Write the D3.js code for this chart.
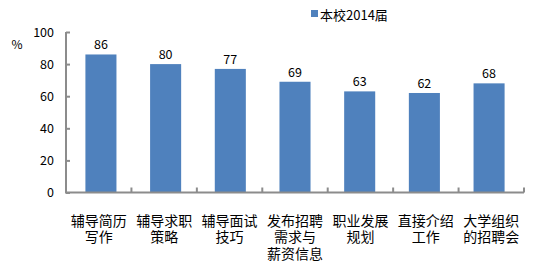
<!DOCTYPE html>
<html>
<head>
<meta charset="utf-8">
<script src="https://cdn.jsdelivr.net/npm/d3@7"></script>
<style>
  body { margin: 0; background: #fff; }
  text { font-family: "Noto Sans CJK SC", "Noto Sans", sans-serif; fill: #000; }
</style>
</head>
<body>
<div id="chart"></div>
<script>
"use strict";
// données
const categories = ["辅导简历写作", "辅导求职策略", "辅导面试技巧", "发布招聘需求与薪资信息", "职业发展规划", "直接介绍工作", "大学组织的招聘会"];
const labelLines = [["辅导简历", "写作"], ["辅导求职", "策略"], ["辅导面试", "技巧"], ["发布招聘", "需求与", "薪资信息"], ["职业发展", "规划"], ["直接介绍", "工作"], ["大学组织", "的招聘会"]];
const values = [86, 80, 77, 69, 63, 62, 68];
const yTicks = [0, 20, 40, 60, 80, 100];
const seriesName = "本校2014届";

const width = 549, height = 266;
const color = "#4F81BD", axisColor = "#8C8C8C";

const svg = d3.select("#chart").append("svg")
    .attr("width", width).attr("height", height);

const x = d3.scaleBand()
    .domain(categories)
    .range([66, 524])
    .paddingInner(0.52)
    .paddingOuter(0.3);

const band = d3.scaleBand().domain(categories).range([66, 524]);

const y = d3.scaleLinear().domain([0, 100]).range([192.5, 32]);

// barres
svg.selectAll(".bar").data(values).enter()
    .append("rect")
    .attr("class", "bar")
    .attr("x", (d, i) => x(categories[i]))
    .attr("y", d => y(d))
    .attr("width", x.bandwidth())
    .attr("height", d => y(0) - y(d))
    .attr("fill", color);

// étiquettes de valeurs
svg.selectAll(".val").data(values).enter()
    .append("text")
    .attr("class", "val")
    .attr("x", (d, i) => x(categories[i]) + x.bandwidth() / 2)
    .attr("y", d => y(d) - 5)
    .attr("text-anchor", "middle")
    .attr("font-size", 12.5)
    .text(d => d);

// axe y
const yAxis = svg.append("g")
    .attr("transform", "translate(66,0)")
    .call(d3.axisLeft(y).tickValues(yTicks).tickSize(-4).tickPadding(12));
yAxis.select(".domain").attr("stroke", axisColor).attr("stroke-width", 2).attr("d", `M0,${y(100)}V${y(0)}`);
yAxis.selectAll(".tick line").attr("stroke", axisColor).attr("stroke-width", 2);
yAxis.selectAll(".tick text").attr("font-size", 12.5).attr("font-family", "'Noto Sans CJK SC', sans-serif").attr("fill", "#000");

svg.append("text")
    .attr("x", 17).attr("y", 49)
    .attr("text-anchor", "middle")
    .attr("font-size", 12)
    .text("%");

// axe x
const xAxis = svg.append("g")
    .attr("transform", `translate(0,${y(0)})`);
xAxis.append("line")
    .attr("x1", 65).attr("x2", 524)
    .attr("stroke", axisColor).attr("stroke-width", 2);
xAxis.selectAll(".sep").data(categories).enter()
    .append("line")
    .attr("class", "sep")
    .attr("x1", d => band(d) + band.bandwidth()).attr("x2", d => band(d) + band.bandwidth())
    .attr("y1", 0).attr("y2", -5)
    .attr("stroke", axisColor).attr("stroke-width", 2);

const catText = svg.selectAll(".cat").data(labelLines).enter()
    .append("text")
    .attr("class", "cat")
    .attr("text-anchor", "middle")
    .attr("font-size", 14);
catText.selectAll("tspan")
    .data((d, i) => d.map(t => ({t: t, c: categories[i]})))
    .join("tspan")
    .attr("x", d => band(d.c) + band.bandwidth() / 2)
    .attr("y", (d, j) => 225.5 + j * 16.8)
    .text(d => d.t);

// légende
svg.append("rect")
    .attr("x", 311).attr("y", 10).attr("width", 7).attr("height", 7)
    .attr("fill", color);
svg.append("text")
    .attr("x", 320).attr("y", 20)
    .attr("font-size", 13)
    .text(seriesName);
</script>
</body>
</html>
